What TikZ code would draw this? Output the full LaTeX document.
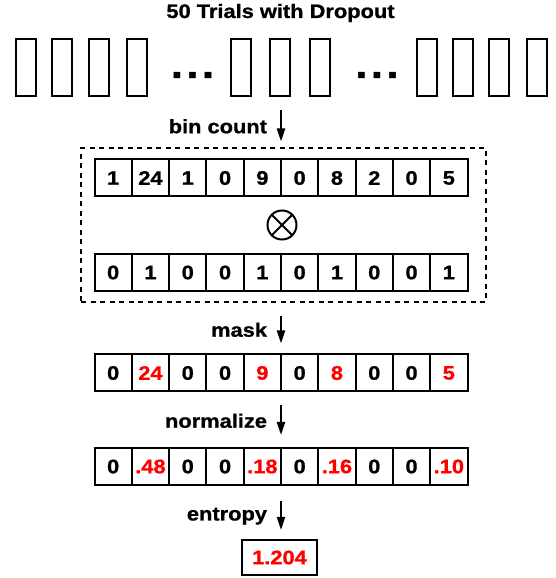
\documentclass[tikz,border=0pt]{standalone}
\usepackage{fontspec}
\setmainfont[FakeStretch=1.12, BoldFeatures={FakeBold=1}]{Liberation Sans}
\usetikzlibrary{positioning,fit,arrows.meta}
\newcommand\kept[1]{\textcolor{red}{#1}}

\begin{document}
\begin{tikzpicture}[x=1pt, y=1pt,
  font=\fontsize{19.5pt}{22pt}\selectfont\bfseries,
  trial/.style={draw, line width=2pt, minimum width=20pt, minimum height=57pt, inner sep=0pt},
  dots/.style={anchor=base, font=\fontsize{39pt}{39pt}\selectfont\bfseries},
  cell/.style={draw, line width=2pt, minimum width=37.3pt, minimum height=37pt, inner sep=0pt, outer sep=0pt},
  frame/.style={draw, line width=2pt, dash pattern=on 5pt off 4.5pt, inner xsep=16pt, inner ysep=11pt},
  flow/.style={line width=2pt, -{Triangle[length=13pt,width=8pt]}, shorten <=13pt, shorten >=11pt},
  lbl/.style={anchor=base east, inner sep=0pt, xshift=-13pt, yshift=-8pt}]
  \useasboundingbox (0,0) rectangle (556,578);

  \node[anchor=base] (head) at (280.5,560) {50 Trials with Dropout};
  \foreach \x [count=\i] in {26,62,98.5,137,241,279.5,320,426.5,462.5,498.5,537}
    \node[trial] (t\i) at (\x,510.5) {};
  \node[dots] (d1) at (192.5,500) {.\hspace{3.4pt}.\hspace{3.4pt}.};
  \node[dots] (d2) at (377,500) {.\hspace{3.4pt}.\hspace{3.4pt}.};

  % counts times mask
  \foreach \v [count=\i] in {1,24,1,0,9,0,8,2,0,5}
    \node[cell] (b\i) at ({75.85+37.3*\i},400) {\v};
  \node[circle, draw, line width=2pt, minimum size=29pt, inner sep=0pt, outer sep=0pt] (op) at (282,353) {};
  \draw[line width=2pt] (op.north east) -- (op.south west) (op.north west) -- (op.south east);
  \foreach \v [count=\i] in {0,1,0,0,1,0,1,0,0,1}
    \node[cell] (m\i) at ({75.85+37.3*\i},305.5) {\v};
  \node[frame, fit=(b1)(m10), xshift=2.5pt] (box) {};

  \foreach \v [count=\i] in {0,\kept{24},0,0,\kept{9},0,\kept{8},0,0,\kept{5}}
    \node[cell] (k\i) at ({75.85+37.3*\i},205) {\v};
  \foreach \v [count=\i] in {0,\kept{.48},0,0,\kept{.18},0,\kept{.16},0,0,\kept{.10}}
    \node[cell] (n\i) at ({75.85+37.3*\i},111.5) {\v};
  \node[cell, minimum width=75pt, minimum height=35pt, text=red, below=55pt of n5.south east, xshift=-1.5pt] (res) {1.204};

  \draw[flow, shorten >=6pt] (t6.south -| b5.north east) -- (box.north -| b5.north east)
    node[lbl, midway, yshift=-3pt] {bin count};
  \draw[flow] (box.south -| b5.north east) -- (k5.north east)
    node[lbl, midway] {mask};
  \draw[flow, shorten <=13.5pt, shorten >=13pt] (k5.south east) -- (n5.north east)
    node[lbl, midway] {normalize};
  \draw[flow, shorten <=16pt, shorten >=10pt] (n5.south east) -- (res.north -| n5.south east)
    node[lbl, midway] {entropy};
\end{tikzpicture}
\end{document}
